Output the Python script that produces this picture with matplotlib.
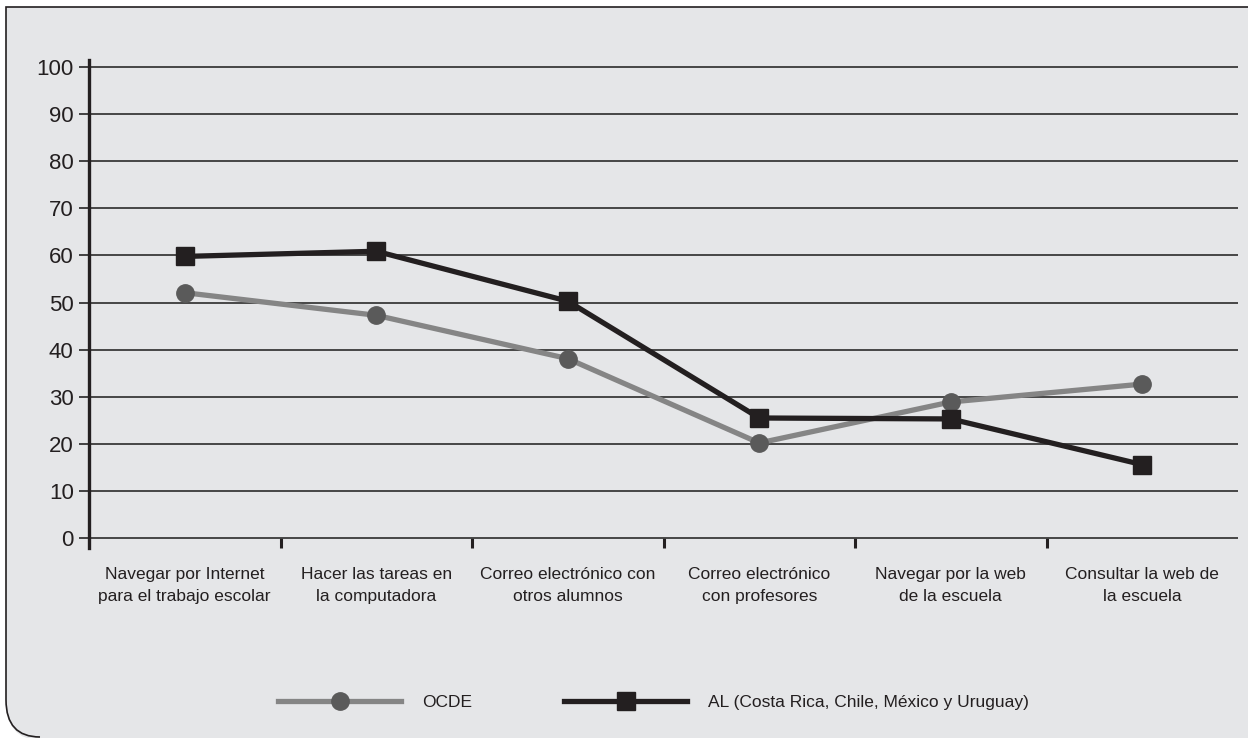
import matplotlib
matplotlib.use("Agg")
from matplotlib import pyplot as plt
from matplotlib.path import Path
from matplotlib.patches import PathPatch
from matplotlib import font_manager

# Actividades escolares con computadora (%)
categorias = [
    "Navegar por Internet\npara el trabajo escolar",
    "Hacer las tareas en\nla computadora",
    "Correo electrónico con\notros alumnos",
    "Correo electrónico\ncon profesores",
    "Navegar por la web\nde la escuela",
    "Consultar la web de\nla escuela",
]
ocde = [52.1, 47.3, 38.1, 20.2, 28.9, 32.7]
al = [59.8, 60.9, 50.3, 25.5, 25.3, 15.6]
y_ticks = [0, 10, 20, 30, 40, 50, 60, 70, 80, 90, 100]

# fuente angosta si existe
nombres = {f.name for f in font_manager.fontManager.ttflist}
familia = 'Liberation Sans Narrow' if 'Liberation Sans Narrow' in nombres else 'Liberation Sans'
plt.rcParams['font.family'] = [familia, 'DejaVu Sans']

W, H = 1248, 738
fig = plt.figure(figsize=(W / 100, H / 100), dpi=100)
fig.patch.set_facecolor('white')

fondo = '#e5e6e8'

# marco gris con la esquina inferior izquierda redondeada
def px(x, y):
    return (x / W, 1 - y / H)

verts = [px(6, 7), px(W + 2, 7), px(W + 2, H + 2), px(40, H + 2),
         px(6, H + 2), px(6, 700), px(6, 7)]
codes = [Path.MOVETO, Path.LINETO, Path.LINETO, Path.LINETO,
         Path.CURVE3, Path.LINETO, Path.CLOSEPOLY]
fig.patches.append(PathPatch(Path(verts, codes), transform=fig.transFigure,
                             facecolor=fondo, edgecolor='none', zorder=-2))
borde = [px(W + 2, 7), px(6, 7), px(6, 700), px(6, H - 1), px(40, H - 1)]
bcodes = [Path.MOVETO, Path.LINETO, Path.LINETO, Path.CURVE3, Path.LINETO]
fig.patches.append(PathPatch(Path(borde, bcodes), transform=fig.transFigure,
                             facecolor='none', edgecolor='#231f20', lw=1.2, zorder=-1))

ax = fig.add_axes([89 / W, 1 - 548 / H, 1149 / W, 488 / H])
ax.set_facecolor('none')

x = list(range(len(categorias)))
l1, = ax.plot(x, ocde, color='#858585', lw=3.8, marker='o', markersize=12.5,
              markerfacecolor='#5a5a5a', markeredgecolor='#5a5a5a', zorder=3)
l2, = ax.plot(x, al, color='#231f20', lw=3.8, marker='s', markersize=13.5,
              markerfacecolor='#231f20', markeredgecolor='#231f20', zorder=4)

ax.set_xlim(-0.5, len(categorias) - 0.5)
ax.set_ylim(-2.1, 101.5)

ax.set_yticks(y_ticks)
ax.tick_params(axis='y', direction='out', length=7, width=1.3, color='#333333',
               labelsize=16, labelcolor='#231f20', pad=4)
ax.yaxis.grid(True, color='#3a3a3a', lw=1.3)
ax.set_axisbelow(True)

ax.set_xticks(x)
ax.set_xticklabels(categorias, fontsize=12.5, color='#231f20', linespacing=1.55)
ax.set_xticks([i + 0.5 for i in x[:-1]], minor=True)
ax.tick_params(axis='x', which='major', length=0, pad=14)
ax.tick_params(axis='x', which='minor', direction='in', length=7, width=2.2,
               color='#231f20')

for s in ['top', 'right', 'bottom']:
    ax.spines[s].set_visible(False)
ax.spines['left'].set_linewidth(2.4)
ax.spines['left'].set_color('#231f20')

fig.legend([l1, l2], ['OCDE', 'AL (Costa Rica, Chile, México y Uruguay)'],
           loc='center left', bbox_to_anchor=(278 / W, 1 - 702 / H), ncol=2,
           frameon=False, fontsize=12.5, handlelength=7.1, handletextpad=1.2,
           columnspacing=5.3, borderpad=0, borderaxespad=0, numpoints=1,
           labelcolor='#231f20')

fig.savefig('out.png', dpi=100)
